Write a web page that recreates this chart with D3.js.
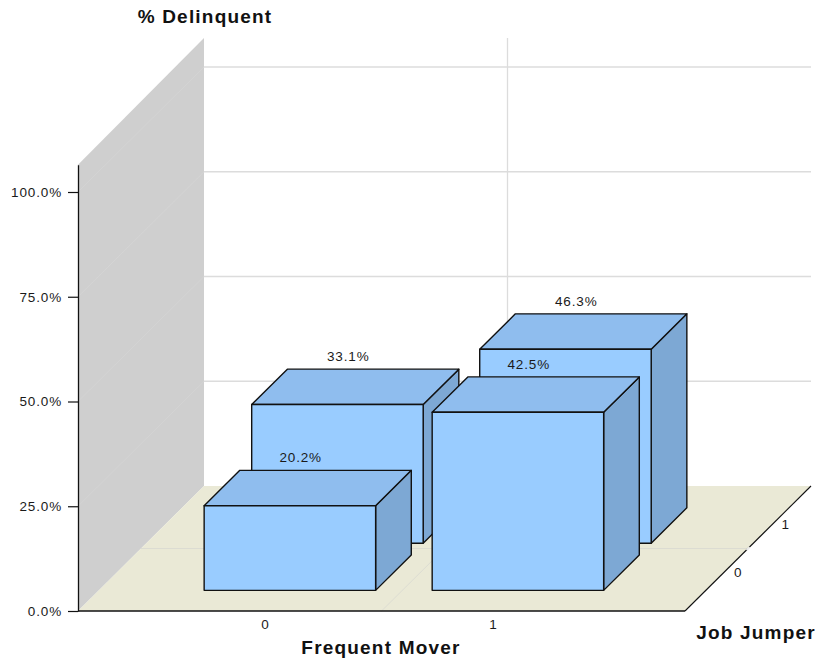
<!DOCTYPE html>
<html><head><meta charset="utf-8">
<script src="https://cdn.jsdelivr.net/npm/d3@7"></script>
<style>
html,body{margin:0;padding:0;background:#fff;overflow:hidden}
text{font-family:"Liberation Sans",Arial,sans-serif;fill:#1a1a1a}
.tick-label{font-size:13.5px;letter-spacing:.85px}
.axis-title{font-size:19px;font-weight:bold;letter-spacing:1.2px;fill:#111}
</style></head><body>
<svg id="chart" width="816" height="659"></svg>
<script>
const frequentMover = ["0", "1"];
const jobJumper = ["0", "1"];
const delinquent0 = [20.2, 42.5]; // Job Jumper = 0
const delinquent1 = [33.1, 46.3]; // Job Jumper = 1
const valueTicks = [0, 25, 50, 75, 100];
const valueGridExtra = [125];
const valueTop = 106.5;

const originX = 78, originY = 611, floorW = 607, floorD = 126, floorRise = 125 / 126;
const colors = {front:"#99ccff", top:"#8fbdee", side:"#7da8d4", wall:"#cfcfcf", wallGrid:"#d4d4d4",
  floor:"#eae9d6", floorGrid:"#dcdcd2", grid:"#dcdcdc", line:"#111"};

const xs = d3.scaleBand().domain(frequentMover).range([0, floorW]).paddingInner(0.248).paddingOuter(0.455);
const zs = d3.scaleBand().domain(jobJumper).range([0, floorD]).paddingInner(0.25).paddingOuter(0.45);
const ys = d3.scaleLinear().domain([0, 100]).range([0, 419]);
const px = (x, z) => originX + x + z;
const py = (z, v) => originY - z * floorRise - ys(v);
const pt = (x, z, v) => [px(x, z), py(z, v)];
const path = pts => d3.line()(pts) + "Z";

const svg = d3.select("#chart");
const g = svg.append("g");

// wall
const topV = valueTop;
const wallTopBack = 38;
g.append("path").attr("d", path([pt(0,0,0), pt(0,0,topV), [px(0,floorD), wallTopBack], pt(0,floorD,0)])).attr("fill", colors.wall);
// floor
g.append("path").attr("d", path([pt(0,0,0), pt(floorW,0,0), pt(floorW,floorD,0), pt(0,floorD,0)])).attr("fill", colors.floor);

// wall and back gridlines
valueTicks.concat(valueGridExtra).forEach(v => {
  if (v > 0 && v <= 100) g.append("line").attr("x1", px(0,0)).attr("y1", py(0,v)).attr("x2", px(0,floorD)).attr("y2", py(floorD,v)).attr("stroke", colors.wallGrid);
  if (v > 0) g.append("line").attr("x1", px(0,floorD)).attr("y1", py(floorD,v)).attr("x2", px(floorW,floorD)).attr("y2", py(floorD,v)).attr("stroke", colors.grid).attr("stroke-width", 1.3);
});
// mid lines
g.append("line").attr("x1", px(floorW/2,floorD)).attr("y1", py(floorD,0)).attr("x2", px(floorW/2,floorD)).attr("y2", wallTopBack).attr("stroke", colors.grid).attr("stroke-width", 1.3);
g.append("line").attr("x1", px(floorW/2,0)).attr("y1", py(0,0)).attr("x2", px(floorW/2,floorD)).attr("y2", py(floorD,0)).attr("stroke", colors.floorGrid);
g.append("line").attr("x1", px(0,floorD/2)).attr("y1", py(floorD/2,0)).attr("x2", px(floorW,floorD/2)).attr("y2", py(floorD/2,0)).attr("stroke", colors.floorGrid);

// value axis
const yAxisScale = d3.scaleLinear().domain([0, topV]).range([originY, py(0, topV)]);
const yAxis = d3.axisLeft(yAxisScale).tickValues(valueTicks).tickSizeInner(10).tickSizeOuter(0).tickPadding(6).tickFormat(d => d3.format(".1f")(d) + "%");
const ga = g.append("g").attr("transform", `translate(${originX},0)`).call(yAxis);
ga.select(".domain").attr("stroke", colors.line).attr("stroke-width", 1.3);
ga.selectAll(".tick line").attr("stroke", colors.line).attr("stroke-width", 1.2);
ga.selectAll(".tick text").attr("class", "tick-label").attr("fill", "#1a1a1a").style("font-family", '"Liberation Sans",Arial,sans-serif');

// floor edges
g.append("line").attr("x1", px(0,0)).attr("y1", originY).attr("x2", px(floorW,0)).attr("y2", originY).attr("stroke", colors.line).attr("stroke-width", 1.3);
g.append("line").attr("x1", px(floorW,0)).attr("y1", originY).attr("x2", px(floorW,floorD)).attr("y2", py(floorD,0)).attr("stroke", colors.line).attr("stroke-width", 1.1);
g.append("line").attr("x1", px(floorW,floorD/2)-1.5).attr("y1", py(floorD/2,0)+1.5).attr("x2", px(floorW,floorD/2)+1.5).attr("y2", py(floorD/2,0)-1.5).attr("stroke", "#fff").attr("stroke-width", 1.5);

// bars: back row first
const barLayer = g.append("g").attr("transform", "translate(1,0.6)");
const rows = [{z:"1", values:delinquent1}, {z:"0", values:delinquent0}];
rows.forEach(r => {
  r.values.forEach((v, i) => {
    const x0 = xs(frequentMover[i]), w = xs.bandwidth();
    const z0 = zs(r.z), d = zs.bandwidth();
    const bar = barLayer.append("g").attr("stroke", colors.line).attr("stroke-width", 1.4).attr("stroke-linejoin", "round");
    bar.append("path").attr("fill", colors.side).attr("d", path([pt(x0+w,z0,0), pt(x0+w,z0+d,0), pt(x0+w,z0+d,v), pt(x0+w,z0,v)]));
    bar.append("path").attr("fill", colors.top).attr("d", path([pt(x0,z0,v), pt(x0+w,z0,v), pt(x0+w,z0+d,v), pt(x0,z0+d,v)]));
    bar.append("path").attr("fill", colors.front).attr("d", path([pt(x0,z0,0), pt(x0+w,z0,0), pt(x0+w,z0,v), pt(x0,z0,v)]));
    barLayer.append("text").attr("class","tick-label")
      .attr("x", px(x0 + w/2, z0 + d/2) - 7)
      .attr("y", py(z0 + d, v) - 8)
      .attr("text-anchor","middle").text(d3.format(".1f")(v)+"%");
  });
});

// category tick labels
frequentMover.forEach(c => {
  g.append("text").attr("class","tick-label").attr("x", originX + xs(c) + xs.bandwidth()/2 - 2).attr("y", 629).attr("text-anchor","middle").text(c);
});
jobJumper.forEach(c => {
  const z = zs(c) + zs.bandwidth()/2;
  g.append("text").attr("class","tick-label").attr("x", originX + floorW + z + 14).attr("y", originY - z + 5).attr("text-anchor","middle").text(c);
});

// titles
g.append("text").attr("class","axis-title").attr("x", 205).attr("y", 23).attr("text-anchor","middle").text("% Delinquent");
g.append("text").attr("class","axis-title").attr("x", 381).attr("y", 654).attr("text-anchor","middle").text("Frequent Mover");
g.append("text").attr("class","axis-title").attr("x", 756).attr("y", 639).attr("text-anchor","middle").text("Job Jumper");
</script>
</body></html>
